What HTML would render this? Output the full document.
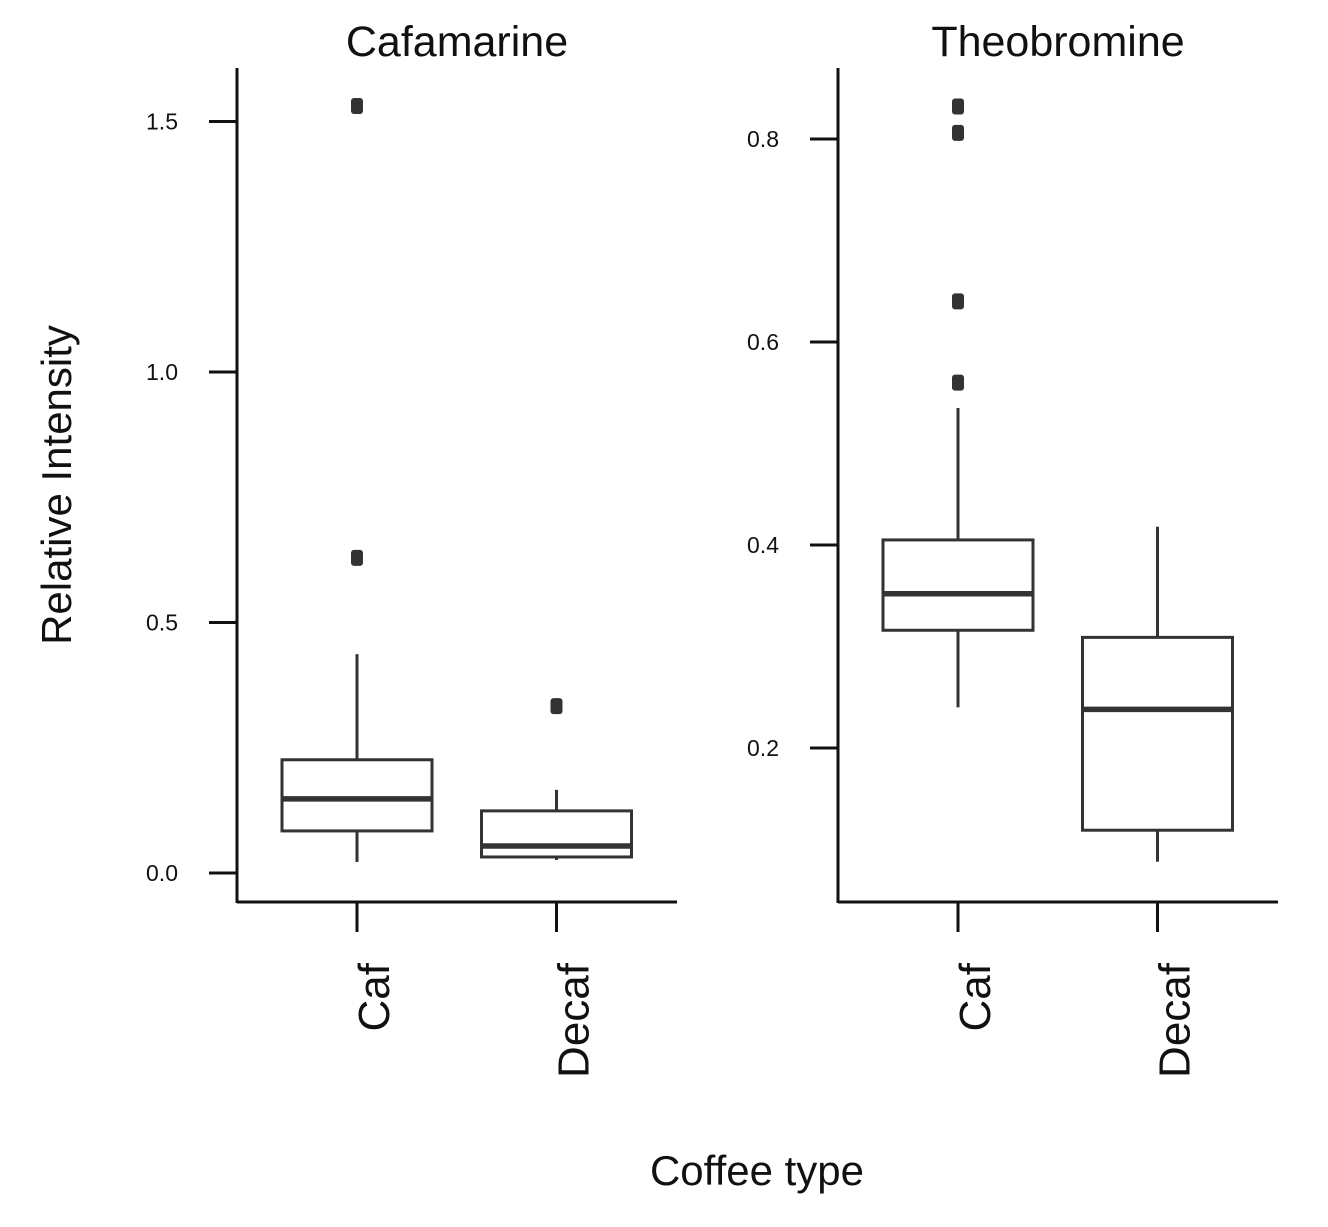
<!DOCTYPE html>
<html><head><meta charset="utf-8"><style>
body{margin:0;background:#fff;}
svg{display:block;font-family:"Liberation Sans",Arial,sans-serif;}
</style></head><body>
<svg id="chart" width="1328" height="1227" viewBox="0 0 1328 1227"></svg>
<script>
const categories = ["Caf","Decaf"];
const panels = ["Cafamarine","Theobromine"];
// [low whisker, Q1, median, Q3, high whisker]
const cafamarineStats = [[0.022,0.084,0.148,0.226,0.437],[0.026,0.032,0.054,0.124,0.166]];
const cafamarineOutliers = [[0.629,1.531],[0.333]];
const theobromineStats = [[0.240,0.316,0.352,0.405,0.535],[0.088,0.119,0.238,0.309,0.418]];
const theobromineOutliers = [[0.560,0.640,0.806,0.832],[]];
const cafamarineTicks = [0.0,0.5,1.0,1.5];
const theobromineTicks = [0.2,0.4,0.6,0.8];

const NS="http://www.w3.org/2000/svg";
const svg=document.getElementById('chart');
function el(tag,attrs,parent,text){const e=document.createElementNS(NS,tag);for(const k in attrs)e.setAttribute(k,attrs[k]);if(text!==undefined)e.textContent=text;(parent||svg).appendChild(e);return e;}
const C="#333";
const panelDefs=[
 {name:panels[0],x0:237,x1:677,stats:cafamarineStats,out:cafamarineOutliers,ticks:cafamarineTicks,fmt:1,v0:0,y0:873,scale:501,tx:457},
 {name:panels[1],x0:838,x1:1278,stats:theobromineStats,out:theobromineOutliers,ticks:theobromineTicks,fmt:1,v0:0.2,y0:748,scale:1015,tx:1058}
];
panelDefs.forEach((p,pi)=>{
 const g=el('g',{});
 
 
 const y=v=>p.y0-(v-p.v0)*p.scale;
 const xc=i=>p.x0+120+i*199.5;
 const t=el('text',{x:p.tx,y:56,'font-size':43,'text-anchor':'middle',fill:'#111'},g,p.name);
 
 const ya=el('line',{x1:p.x0,y1:68,x2:p.x0,y2:903,stroke:'#111','stroke-width':3},g);
 
 const xa=el('line',{x1:p.x0,y1:902,x2:p.x1,y2:902,stroke:'#111','stroke-width':3},g);
 
 p.ticks.forEach(v=>{
  const ty=y(v);
  el('line',{x1:p.x0-28,y1:ty,x2:p.x0,y2:ty,stroke:'#111','stroke-width':3},g);
  const tl=el('text',{x:p.x0-59,y:ty+8,'font-size':23,'text-anchor':'end',fill:'#111'},g,v.toFixed(p.fmt));
  
 });
 categories.forEach((c,i)=>{
  const cx=xc(i);const s=p.stats[i];
  el('line',{x1:cx,y1:902,x2:cx,y2:932,stroke:'#111','stroke-width':3},g);
  const xl=el('text',{x:0,y:0,'font-size':44,'text-anchor':'end',fill:'#111',transform:`translate(${cx+32},963) rotate(-90)`},g,c);
  
  const bg=el('g',{},g);
  
  el('line',{x1:cx,y1:y(s[0]),x2:cx,y2:y(s[1]),stroke:C,'stroke-width':3},bg);
  el('line',{x1:cx,y1:y(s[3]),x2:cx,y2:y(s[4]),stroke:C,'stroke-width':3},bg);
  el('rect',{x:cx-75,y:y(s[3]),width:150,height:y(s[1])-y(s[3]),fill:'#fff',stroke:C,'stroke-width':3},bg);
  el('line',{x1:cx-75,y1:y(s[2]),x2:cx+75,y2:y(s[2]),stroke:C,'stroke-width':5.5},bg);
  p.out[i].forEach(v=>{
   const o=el('rect',{x:cx-6,y:y(v)-8,width:12,height:16,rx:3,fill:C},bg);
   
  });
 });
});
const yt=el('text',{x:0,y:0,'font-size':42,'text-anchor':'middle',fill:'#111',transform:'translate(71,485) rotate(-90)'},svg,'Relative Intensity');

const xt=el('text',{x:757,y:1185,'font-size':42,'text-anchor':'middle',fill:'#111'},svg,'Coffee type');

</script>
</body></html>
